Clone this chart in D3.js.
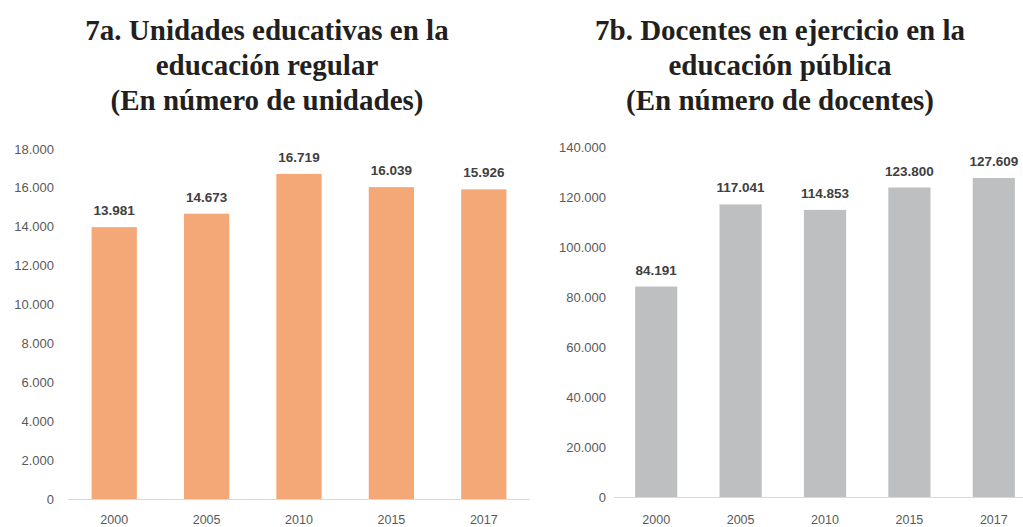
<!DOCTYPE html>
<html>
<head>
<meta charset="utf-8">
<script src="https://cdn.jsdelivr.net/npm/d3@7"></script>
<style>
  body { margin: 0; background: #fff; }
  svg { display: block; }
</style>
</head>
<body>
<svg id="chart"></svg>
<script>
// ========== DATA ==========
var years = ['2000', '2005', '2010', '2015', '2017'];
var unidades = [13981, 14673, 16719, 16039, 15926];
var docentes = [84191, 117041, 114853, 123800, 127609];
var unidadesTicks = [0, 2000, 4000, 6000, 8000, 10000, 12000, 14000, 16000, 18000];
var docentesTicks = [0, 20000, 40000, 60000, 80000, 100000, 120000, 140000];
var titleA = ['7a. Unidades educativas en la', 'educación regular', '(En número de unidades)'];
var titleB = ['7b. Docentes en ejercicio en la', 'educación pública', '(En número de docentes)'];

// ========== CONSTANTS ==========
var width = 1023;
var height = 527;
var tick_color = '#595959';
var label_color = '#404040';
var axis_color = '#d9d9d9';
var orange = '#f4a878';
var grey = '#bdbfc1';

var fmt = d3.formatLocale({ decimal: ',', thousands: '.', grouping: [3], currency: ['', ''] }).format(',d');

var svg = d3.select('#chart')
	.attr('width', width)
	.attr('height', height);

drawPanel({
	title: titleA, titleX: 267,
	values: unidades, ticks: unidadesTicks, max: 18000,
	xRange: [68, 530], yRange: [499, 149], labelX: 54,
	color: orange, bandPad: 0.51
});
drawPanel({
	title: titleB, titleX: 780,
	values: docentes, ticks: docentesTicks, max: 140000,
	xRange: [614, 1036], yRange: [497, 147], labelX: 606,
	color: grey, bandPad: 0.5
});

function drawPanel(p) {
	var g = svg.append('g');

	// title
	g.selectAll('.title')
		.data(p.title).enter().append('text')
		.attr('class', 'title')
		.attr('x', p.titleX)
		.attr('y', function(d, i) { return 40 + i * 35; })
		.attr('text-anchor', 'middle')
		.style('font-family', '"Liberation Serif", "Times New Roman", serif')
		.style('font-weight', 'bold')
		.style('font-size', '29px')
		.attr('fill', '#231f20')
		.text(function(d) { return d; });

	var x = d3.scaleBand()
		.domain(years)
		.range(p.xRange)
		.paddingInner(p.bandPad)
		.paddingOuter(p.bandPad / 2);
	var y = d3.scaleLinear()
		.domain([0, p.max])
		.range(p.yRange);

	// y tick labels
	g.selectAll('.ytick')
		.data(p.ticks).enter().append('text')
		.attr('class', 'ytick')
		.attr('x', p.labelX)
		.attr('y', function(d) { return y(d); })
		.attr('dy', '0.35em')
		.attr('text-anchor', 'end')
		.style('font-family', '"Liberation Sans", Arial, sans-serif')
		.style('font-size', '13px')
		.attr('fill', tick_color)
		.text(function(d) { return fmt(d); });

	// bars
	g.selectAll('.bar')
		.data(p.values).enter().append('rect')
		.attr('class', 'bar')
		.attr('x', function(d, i) { return x(years[i]); })
		.attr('y', function(d) { return y(d); })
		.attr('width', x.bandwidth())
		.attr('height', function(d) { return y(0) - y(d); })
		.attr('fill', p.color);

	// baseline
	g.append('line')
		.attr('x1', p.xRange[0]).attr('x2', p.xRange[1])
		.attr('y1', y(0) + 0.5).attr('y2', y(0) + 0.5)
		.attr('stroke', axis_color)
		.attr('stroke-width', 1.2);

	// value labels
	g.selectAll('.val')
		.data(p.values).enter().append('text')
		.attr('class', 'val')
		.attr('x', function(d, i) { return x(years[i]) + x.bandwidth() / 2; })
		.attr('y', function(d) { return y(d) - 12; })
		.attr('text-anchor', 'middle')
		.style('font-family', '"Liberation Sans", Arial, sans-serif')
		.style('font-weight', 'bold')
		.style('font-size', '13.5px')
		.attr('fill', label_color)
		.text(function(d) { return fmt(d); });

	// x labels
	g.selectAll('.xlab')
		.data(years).enter().append('text')
		.attr('class', 'xlab')
		.attr('x', function(d) { return x(d) + x.bandwidth() / 2; })
		.attr('y', 524)
		.attr('text-anchor', 'middle')
		.style('font-family', '"Liberation Sans", Arial, sans-serif')
		.style('font-size', '12.5px')
		.attr('fill', tick_color)
		.text(function(d) { return d; });
}
</script>
</body>
</html>
